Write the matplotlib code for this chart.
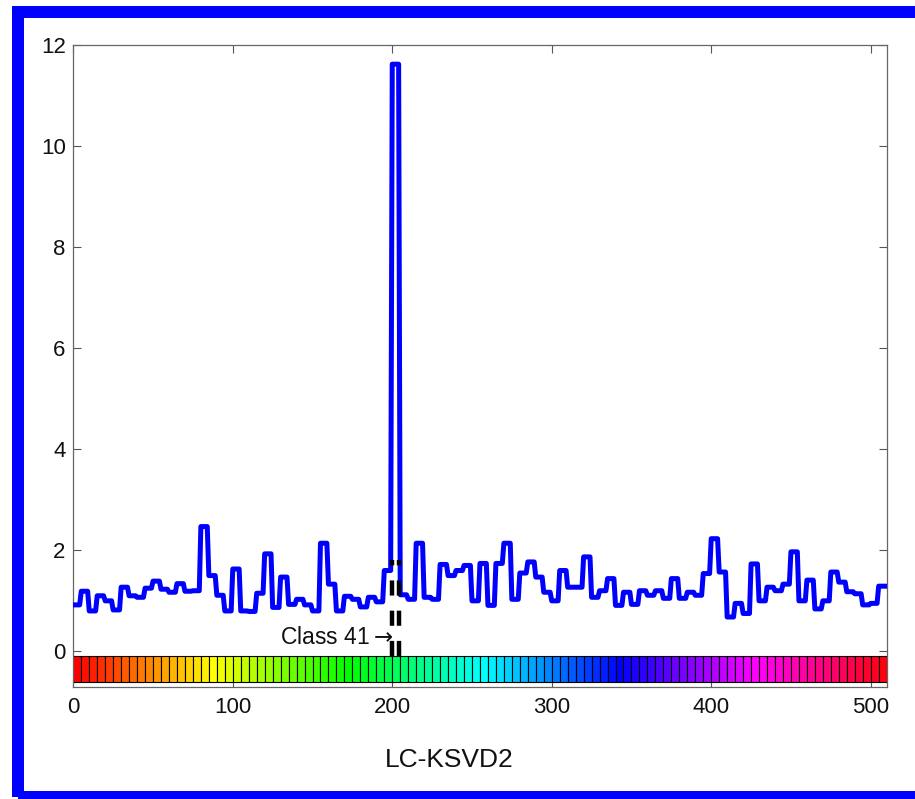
import numpy as np
import matplotlib
matplotlib.use("Agg")
import matplotlib.pyplot as plt
from matplotlib.colors import hsv_to_rgb
from matplotlib.patches import Rectangle

plt.rcParams['font.family'] = ['Liberation Sans', 'DejaVu Sans']

# Per-class score, one value per class (102 classes, 5 dictionary atoms each)
class_scores = [
    0.92, 1.19, 0.80, 1.10, 1.00, 0.82, 1.27, 1.10, 1.07, 1.25,
    1.39, 1.23, 1.17, 1.34, 1.19, 1.20, 2.47, 1.50, 1.11, 0.80,
    1.63, 0.80, 0.79, 1.15, 1.93, 0.87, 1.47, 0.93, 1.03, 0.92,
    0.80, 2.14, 1.33, 0.80, 1.09, 1.03, 0.88, 1.07, 0.98, 1.60,
    11.62, 1.12, 1.03, 2.14, 1.07, 1.03, 1.72, 1.50, 1.60, 1.70,
    1.00, 1.74, 0.91, 1.74, 2.14, 1.03, 1.55, 1.77, 1.47, 1.17,
    1.00, 1.60, 1.27, 1.27, 1.87, 1.07, 1.20, 1.44, 0.91, 1.17,
    0.93, 1.20, 1.11, 1.20, 1.05, 1.44, 1.05, 1.17, 1.11, 1.54,
    2.23, 1.57, 0.68, 0.95, 0.75, 1.73, 1.00, 1.27, 1.20, 1.33,
    1.97, 1.00, 1.41, 0.84, 1.00, 1.57, 1.37, 1.18, 1.14, 0.92,
    0.95, 1.29,
]
atoms_per_class = 5
highlight_class = 41          # 1-based class label
annotation = r"Class 41$\rightarrow$"
xlabel_text = "LC-KSVD2"
xticks = [0, 100, 200, 300, 400, 500]
yticks = [0, 2, 4, 6, 8, 10, 12]

n_classes = len(class_scores)
n_atoms = n_classes * atoms_per_class
atom_idx = np.arange(n_atoms)
atom_scores = np.repeat(class_scores, atoms_per_class)

fig = plt.figure(figsize=(9.15, 7.99), dpi=100)
ax = fig.add_axes([0.0801, 0.1405, 0.8889, 0.8032])

# score curve over dictionary atoms
ax.plot(atom_idx, atom_scores, color=(0, 0, 1), lw=3.6, zorder=3)

# class colour strip: one cell per class
class_left = np.arange(n_classes) * atoms_per_class
strip_colors = hsv_to_rgb(np.column_stack([np.arange(n_classes) / n_classes,
                                           np.ones(n_classes), np.ones(n_classes)]))
ax.bar(class_left, 0.5, width=atoms_per_class, bottom=-0.6, align='edge',
       color=strip_colors, edgecolor='black', linewidth=0.8, zorder=2)

# boundaries of the highlighted class
first_atom = (highlight_class - 1) * atoms_per_class
last_atom = first_atom + atoms_per_class - 1
for xb in (first_atom, last_atom):
    ax.plot([xb, xb], [-0.1, 1.8], color='black', lw=3.2,
            linestyle=(0, (3.4, 3.4)), dash_capstyle='butt', zorder=4)

ax.text(first_atom + 0.7, 0.28, annotation, ha='right', va='center',
        fontsize=16.5, color='#111111', zorder=5)

ax.set_xlim(0, n_atoms)
ax.set_ylim(-0.7, 12)
ax.set_xticks(xticks)
ax.set_yticks(yticks)
ax.tick_params(direction='in', length=5.8, width=0.8, color='#555555',
               labelsize=16, top=True, right=True, labelcolor='#111111')
ax.tick_params(axis='x', pad=7.5)
ax.tick_params(axis='y', pad=5.5)
for sp in ax.spines.values():
    sp.set_color('#666666')
    sp.set_linewidth(0.9)

fig.text(449 / 915, 1 - 760 / 799, xlabel_text, ha='center', va='center',
         fontsize=19, color='#111111')

# blue outer frame
lw_px = 12
fig.patches.append(Rectangle((18 / 915, 1 - 796.7 / 799),
                             (917.7 - 18) / 915, (796.7 - 11.5) / 799,
                             transform=fig.transFigure, fill=False,
                             edgecolor=(0, 0, 1), linewidth=lw_px * 0.72,
                             joinstyle='miter', zorder=10))

fig.savefig("out.png", dpi=100)
